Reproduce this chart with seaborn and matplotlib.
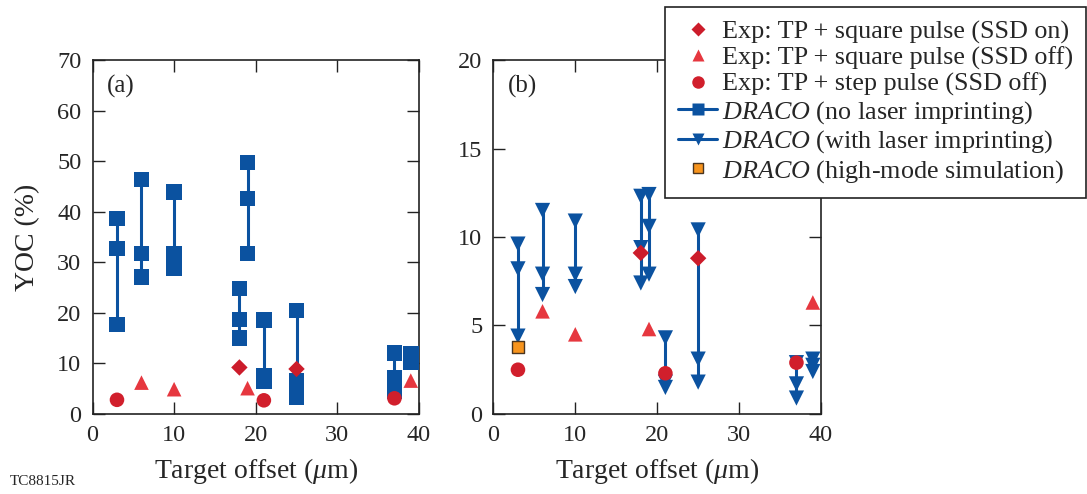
import numpy as np
import pandas as pd
import matplotlib
matplotlib.use('Agg')
import matplotlib.pyplot as plt
from matplotlib.lines import Line2D
import seaborn as sns

# --- Data ---
# panel (a)
a_on_x = [18, 25]
a_on_y = [9.2, 8.9]
a_off_x = [6, 10, 19, 39]
a_off_y = [6.2, 4.9, 5.1, 6.6]
a_step_x = [3, 21, 37]
a_step_y = [2.8, 2.7, 3.1]
a_noimp_x = [3, 3, 3, 6, 6, 6, 10, 10, 10, 18, 18, 18, 19, 19, 19,
             21, 21, 21, 25, 25, 25, 37, 37, 37, 39, 39, 39]
a_noimp_y = [38.7, 32.7, 17.7, 46.4, 31.7, 27.1, 43.9, 31.7, 28.9,
             24.8, 18.7, 15.0, 49.7, 42.6, 31.7, 18.6, 7.5, 6.5,
             20.5, 6.5, 3.4, 12.1, 7.2, 4.4, 12.0, 11.0, 10.2]

# panel (b)
b_on_x = [18, 25]
b_on_y = [9.1, 8.8]
b_off_x = [6, 10, 19, 39]
b_off_y = [5.8, 4.5, 4.8, 6.3]
b_step_x = [3, 21, 37]
b_step_y = [2.5, 2.3, 2.9]
b_imp_x = [3, 3, 3, 6, 6, 6, 10, 10, 10, 18, 18, 18, 19, 19, 19,
           21, 21, 21, 25, 25, 25, 37, 37, 37, 39, 39, 39]
b_imp_y = [9.6, 8.2, 4.4, 11.5, 7.9, 6.75, 10.9, 7.9, 7.2,
           12.3, 9.4, 7.4, 12.4, 10.6, 7.9, 4.3, 1.8, 1.5,
           10.4, 3.1, 1.8, 2.9, 1.7, 0.9, 3.1, 2.75, 2.4]
b_high_x = [3]
b_high_y = [3.8]

labels = ['Exp: TP + square pulse (SSD on)',
          'Exp: TP + square pulse (SSD off)',
          'Exp: TP + step pulse (SSD off)',
          r'$\it{DRACO}$ (no laser imprinting)',
          r'$\it{DRACO}$ (with laser imprinting)',
          r'$\it{DRACO}$ (high-mode simulation)']

BLUE = '#0b52a0'
RED_D = '#cc1c2b'
RED_T = '#e6373f'
RED_C = '#d11f2c'
ORANGE = '#f7941d'

sns.set_style('ticks')
plt.rcParams['font.family'] = ['Liberation Serif', 'DejaVu Serif']
plt.rcParams['mathtext.fontset'] = 'custom'
plt.rcParams['mathtext.rm'] = 'Liberation Serif'
plt.rcParams['mathtext.it'] = 'Liberation Serif:italic'

fig = plt.figure(figsize=(10.87, 4.94), dpi=100)
ax_a = fig.add_axes([0.0851, 0.162, 0.3003, 0.7165])
ax_b = fig.add_axes([0.4539, 0.162, 0.3014, 0.7165])


def draw_sim(ax, xs, ys, marker, size):
    sim = pd.DataFrame({'x': xs, 'y': ys})
    rng = sim.groupby('x')['y'].agg(['min', 'max']).reset_index()
    ax.vlines(rng['x'], rng['min'], rng['max'], color=BLUE, lw=2.2, zorder=2)
    sns.scatterplot(data=sim, x='x', y='y', marker=marker, s=size, color=BLUE,
                    edgecolor='none', ax=ax, zorder=3, legend=False)


def draw_exp(ax, on_x, on_y, off_x, off_y, st_x, st_y):
    sns.scatterplot(x=on_x, y=on_y, marker='D', s=70, color=RED_D,
                    edgecolor='none', ax=ax, zorder=4, legend=False)
    sns.scatterplot(x=off_x, y=off_y, marker='^', s=110, color=RED_T,
                    edgecolor='none', ax=ax, zorder=4, legend=False)
    sns.scatterplot(x=st_x, y=st_y, marker='o', s=110, color=RED_C,
                    edgecolor='none', ax=ax, zorder=4, legend=False)


draw_sim(ax_a, a_noimp_x, a_noimp_y, 's', 125)
draw_exp(ax_a, a_on_x, a_on_y, a_off_x, a_off_y, a_step_x, a_step_y)

draw_sim(ax_b, b_imp_x, b_imp_y, 'v', 120)
draw_exp(ax_b, b_on_x, b_on_y, b_off_x, b_off_y, b_step_x, b_step_y)
sns.scatterplot(x=b_high_x, y=b_high_y, marker='s', s=85, color=ORANGE,
                edgecolor='#4a3520', linewidth=1.0, ax=ax_b, zorder=5, legend=False)

for ax, ymax, ystep, tag in [(ax_a, 70, 10, '(a)'), (ax_b, 20, 5, '(b)')]:
    ax.set_xlim(0, 40)
    ax.set_ylim(0, ymax)
    ax.set_xticks(np.arange(0, 41, 10))
    ax.set_yticks(np.arange(0, ymax + 1, ystep))
    ax.tick_params(direction='in', length=8.5, width=1.0, labelsize=17.5,
                   top=True, right=True, color='#222222')
    ax.tick_params(axis='y', pad=8)
    ax.tick_params(axis='x', pad=8)
    for sp in ax.spines.values():
        sp.set_visible(True)
        sp.set_linewidth(1.2)
        sp.set_color('#222222')
    ax.set_xlabel(r'Target offset ($\mu$m)', fontsize=20, labelpad=7)
    ax.set_ylabel('')
    ax.text(0.045, 0.925, tag, transform=ax.transAxes, fontsize=18,
            ha='left', va='center')

ax_a.set_ylabel('YOC (%)', fontsize=20, labelpad=12)

handles = [
    Line2D([], [], ls='none', marker='D', ms=7, color=RED_D, mec='none'),
    Line2D([], [], ls='none', marker='^', ms=9, color=RED_T, mec='none'),
    Line2D([], [], ls='none', marker='o', ms=9, color=RED_C, mec='none'),
    Line2D([], [], color=BLUE, lw=2.2, marker='s', ms=8, mec='none'),
    Line2D([], [], color=BLUE, lw=2.2, marker='v', ms=9, mec='none'),
    Line2D([], [], ls='none', marker='s', ms=7.5, color=ORANGE, mec='#4a3520', mew=1.0),
]
leg = fig.legend(handles, labels, loc='upper right', bbox_to_anchor=(0.999, 0.986),
                 fontsize=18.8, frameon=True, fancybox=False, framealpha=1,
                 edgecolor='#222222', borderpad=0.5, labelspacing=0.1,
                 handlelength=1.48, handletextpad=0.18, borderaxespad=0)
leg.get_frame().set_linewidth(1.2)
leg.set_zorder(10)

fig.text(0.009, 0.013, 'TC8815JR', fontsize=11, ha='left', va='bottom')

fig.savefig('out.png', dpi=100)
